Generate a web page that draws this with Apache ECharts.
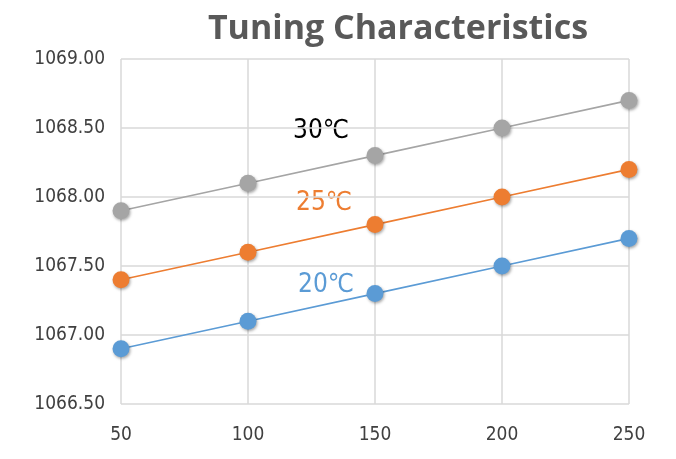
<!DOCTYPE html>
<html>
<head>
<meta charset="utf-8">
<script src="https://cdn.jsdelivr.net/npm/echarts@6/dist/echarts.min.js"></script>
<style>
	*{
		margin:0px;
		padding:0px;
	}
	#main{
		width: 676px;
		height: 459px;
		background: #fff;
	}
</style>
</head>
<body>
<div id="main"></div>
<script type="text/javascript">
var xTicks = [50, 100, 150, 200, 250];
var t30 = [1067.9, 1068.1, 1068.3, 1068.5, 1068.7];
var t25 = [1067.4, 1067.6, 1067.8, 1068.0, 1068.2];
var t20 = [1066.9, 1067.1, 1067.3, 1067.5, 1067.7];

var font = '"Liberation Sans Narrow", "DejaVu Sans Condensed", "Open Sans", sans-serif';

function pairs(vals) {
    return xTicks.map(function (x, i) { return [x, vals[i]]; });
}

function line(name, vals, color) {
    return {
        name: name,
        type: 'line',
        data: pairs(vals),
        symbol: 'circle',
        symbolSize: 17,
        lineStyle: { color: color, width: 1.6 },
        itemStyle: {
            color: color,
            shadowColor: 'rgba(0,0,0,0.35)',
            shadowBlur: 3,
            shadowOffsetX: 1,
            shadowOffsetY: 1.5
        },
        animation: false
    };
}

var myChart = echarts.init(document.getElementById('main'));
myChart.setOption({
    title: {
        text: 'Tuning Characteristics',
        left: 393,
        textAlign: 'center',
        top: 7,
        textStyle: { fontFamily: 'Open Sans, sans-serif', fontSize: 34, fontWeight: 'bold', color: '#595959' }
    },
    grid: { left: 121, right: 47, top: 59, bottom: 55 },
    xAxis: {
        type: 'value',
        min: 50,
        max: 250,
        interval: 50,
        axisLine: { show: false },
        axisTick: { show: false },
        axisLabel: { fontFamily: font, fontSize: 19, color: '#404040', margin: 22 },
        splitLine: { lineStyle: { color: '#d9d9d9', width: 1.5 } }
    },
    yAxis: {
        type: 'value',
        min: 1066.5,
        max: 1069,
        interval: 0.5,
        axisLine: { show: false },
        axisTick: { show: false },
        axisLabel: {
            fontFamily: font, fontSize: 19, color: '#404040', margin: 16,
            formatter: function (v) { return v.toFixed(2); }
        },
        splitLine: { lineStyle: { color: '#d9d9d9', width: 1.5 } }
    },
    series: [
        line('30℃', t30, '#a5a5a5'),
        line('25℃', t25, '#ed7d31'),
        line('20℃', t20, '#5b9bd5')
    ],
    graphic: [
        { type: 'text', left: 293, top: 118, style: { text: '30℃', fontFamily: font, fontSize: 26, fill: '#000' } },
        { type: 'text', left: 296, top: 190, style: { text: '25℃', fontFamily: font, fontSize: 26, fill: '#ed7d31' } },
        { type: 'text', left: 298, top: 272, style: { text: '20℃', fontFamily: font, fontSize: 26, fill: '#5b9bd5' } }
    ]
});
</script>
</body>
</html>
